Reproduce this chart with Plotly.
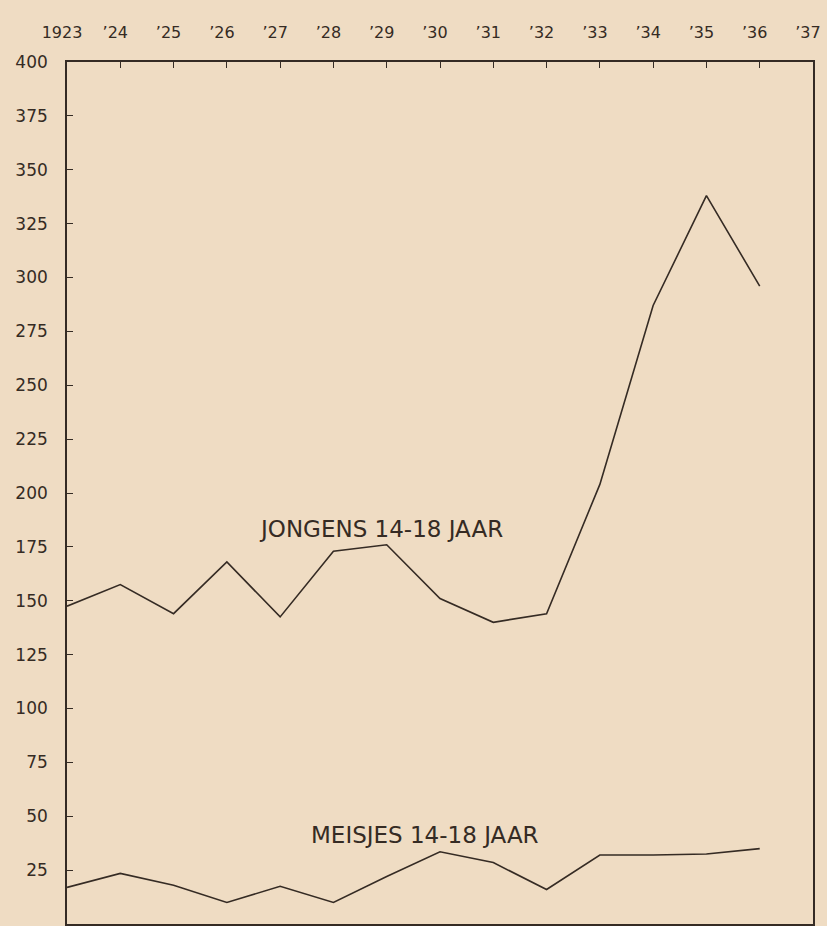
import plotly.graph_objects as go

years = list(range(1923, 1938))
year_labels = ["1923", "’24", "’25", "’26", "’27", "’28", "’29", "’30",
               "’31", "’32", "’33", "’34", "’35", "’36", "’37"]
data_years = list(range(1923, 1937))
jongens = [147.5, 157.5, 144, 168, 142.5, 173, 176, 151, 140, 144, 204, 287, 338, 296]
meisjes = [17, 23.5, 18, 10, 17.5, 10, 22, 33.5, 28.5, 16, 32, 32, 32.5, 35]
y_ticks = list(range(25, 401, 25))

ink = "#352b24"
paper = "#efdcc3"
font_family = "'DejaVu Sans', sans-serif"

fig = go.Figure()
fig.add_trace(go.Scatter(x=data_years, y=jongens, mode="lines",
                         line=dict(color=ink, width=1.6), hoverinfo="skip"))
fig.add_trace(go.Scatter(x=data_years, y=meisjes, mode="lines",
                         line=dict(color=ink, width=1.6), hoverinfo="skip"))

fig.add_annotation(x=1928.9, y=183.5, text="JONGENS 14-18 JAAR", showarrow=False,
                   font=dict(family=font_family, size=23, color=ink),
                   xanchor="center", yanchor="middle")
fig.add_annotation(x=1929.72, y=41.5, text="MEISJES 14-18 JAAR", showarrow=False,
                   font=dict(family=font_family, size=23, color=ink),
                   xanchor="center", yanchor="middle")

fig.update_layout(
    width=827, height=926,
    margin=dict(l=67, r=14, t=62, b=2, autoexpand=False),
    paper_bgcolor=paper, plot_bgcolor=paper,
    showlegend=False,
    font=dict(family=font_family, color=ink),
    xaxis=dict(
        side="top", range=[1923, 1937], tickmode="array",
        tickvals=years, ticktext=year_labels, automargin=False,
        ticklabeloverflow="allow", ticklabelshift=-5,
        showgrid=False, zeroline=False,
        showline=True, linecolor=ink, linewidth=1.6, mirror=True,
        ticks="inside", ticklen=6, tickcolor=ink, tickwidth=1.4,
        tickfont=dict(size=16, color=ink), ticklabelstandoff=16,
    ),
    yaxis=dict(
        range=[0, 400], tickmode="array", tickvals=y_ticks,
        ticktext=[str(v) for v in y_ticks], automargin=False,
        ticklabeloverflow="allow",
        showgrid=False, zeroline=False,
        showline=True, linecolor=ink, linewidth=1.6, mirror=True,
        ticks="inside", ticklen=6, tickcolor=ink, tickwidth=1.4,
        tickfont=dict(size=17, color=ink), ticklabelstandoff=14,
    ),
)

fig.write_html(
    "out.html",
    config={"displayModeBar": False},
    post_script="document.body.style.margin='0';document.body.style.background='%s';" % paper,
)
